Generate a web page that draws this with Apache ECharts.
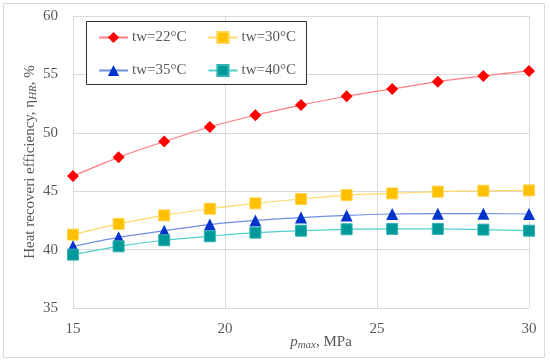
<!DOCTYPE html>
<html>
<head>
<meta charset="utf-8">
<script src="https://cdn.jsdelivr.net/npm/echarts@6/dist/echarts.min.js"></script>
<style>html,body{margin:0;padding:0;background:#fff;}#c{width:550px;height:362px;}</style>
</head>
<body>
<div id="c"></div>
<script>
const pmax = [15, 16.5, 18, 19.5, 21, 22.5, 24, 25.5, 27, 28.5, 30];
const tw22 = [46.3, 47.9, 49.25, 50.5, 51.5, 52.37, 53.13, 53.76, 54.38, 54.87, 55.3];
const tw30 = [41.28, 42.2, 42.93, 43.5, 43.96, 44.33, 44.67, 44.81, 44.96, 45.04, 45.07];
const tw35 = [40.28, 41.05, 41.62, 42.14, 42.5, 42.74, 42.93, 43.05, 43.08, 43.08, 43.05];
const tw40 = [39.57, 40.28, 40.8, 41.14, 41.45, 41.62, 41.74, 41.77, 41.77, 41.71, 41.62];
const seriesNames = ['tw=22°C', 'tw=30°C', 'tw=35°C', 'tw=40°C'];

const FONT = '"Liberation Serif", "DejaVu Serif", serif';
const TXT = '#595959';
const pairs = v => pmax.map((x, i) => [x, v[i]]);

const chart = echarts.init(document.getElementById('c'), null, {renderer: 'canvas'});
function mk(name, data, lineColor, markColor, symbol, size, border) {
  return {
    name: name, type: 'line', data: pairs(data), smooth: 0.3,
    symbol: symbol, symbolSize: size, showAllSymbol: true,
    lineStyle: {color: lineColor, width: 1.2},
    itemStyle: {color: markColor, borderColor: border || markColor, borderWidth: border ? 1 : 0},
    emphasis: {disabled: true}, animation: false
  };
}
const legendBase = {
  left: 98, orient: 'horizontal', padding: 0,
  itemGap: 21, itemWidth: 29, itemHeight: 14,
  textStyle: {fontFamily: FONT, fontSize: 15, color: TXT, padding: [0, 0, 0, -1]}
};
chart.setOption({
  animation: false,
  backgroundColor: '#fff',
  graphic: [
    {type: 'rect', shape: {x: 3.5, y: 3.5, width: 541, height: 354}, style: {fill: 'none', stroke: '#d9d9d9', lineWidth: 1}, z: -1},
    {type: 'rect', shape: {x: 86.5, y: 21.5, width: 220, height: 63}, style: {fill: '#fff', stroke: '#303030', lineWidth: 1}, z: 50}
  ],
  grid: {left: 73, right: 21, top: 16, bottom: 54},
  legend: [
    Object.assign({}, legendBase, {top: 30, data: [seriesNames[0], seriesNames[1]], z: 60}),
    Object.assign({}, legendBase, {top: 63, data: [seriesNames[2], seriesNames[3]], z: 60})
  ],
  xAxis: {
    type: 'value', min: 15, max: 30, interval: 5,
    name: '{i|p}{s|max}{n|, MPa}', nameLocation: 'middle', nameGap: 26, nameMoveOverlap: false,
    nameTextStyle: {fontFamily: FONT, color: TXT, padding: [0, 0, 0, 40],
      rich: {i: {fontFamily: FONT, fontStyle: 'italic', fontSize: 15, color: TXT},
             s: {fontFamily: FONT, fontStyle: 'italic', fontSize: 11, color: TXT, padding: [6, 0, 0, 0]},
             n: {fontFamily: FONT, fontSize: 15, color: TXT}}},
    axisLine: {show: false}, axisTick: {show: false},
    axisLabel: {fontFamily: FONT, fontSize: 15, color: TXT, margin: 14},
    splitLine: {show: true, lineStyle: {color: '#d9d9d9', width: 1}}
  },
  yAxis: {
    type: 'value', min: 35, max: 60, interval: 5,
    name: '{n|Heat recoveri efficiency, η}{s|HR}{n|, %}', nameLocation: 'middle', nameGap: 34, nameMoveOverlap: false,
    nameTextStyle: {fontFamily: FONT, color: TXT,
      rich: {n: {fontFamily: FONT, fontSize: 15, color: TXT},
             s: {fontFamily: FONT, fontStyle: 'italic', fontSize: 11, color: TXT, padding: [6, 0, 0, 0]}}},
    axisLine: {show: false}, axisTick: {show: false},
    axisLabel: {fontFamily: FONT, fontSize: 15, color: TXT, margin: 15},
    splitLine: {show: true, lineStyle: {color: '#d9d9d9', width: 1}}
  },
  series: [
    mk(seriesNames[0], tw22, '#ff7c80', '#ff0000', 'diamond', 12),
    mk(seriesNames[1], tw30, '#ffd966', '#ffc000', 'rect', 11, '#ffd34d'),
    mk(seriesNames[2], tw35, '#6f8fe6', '#0033cc', 'triangle', 12),
    mk(seriesNames[3], tw40, '#4fd0cc', '#009999', 'rect', 11, '#33b3b3')
  ]
});
</script>
</body>
</html>
